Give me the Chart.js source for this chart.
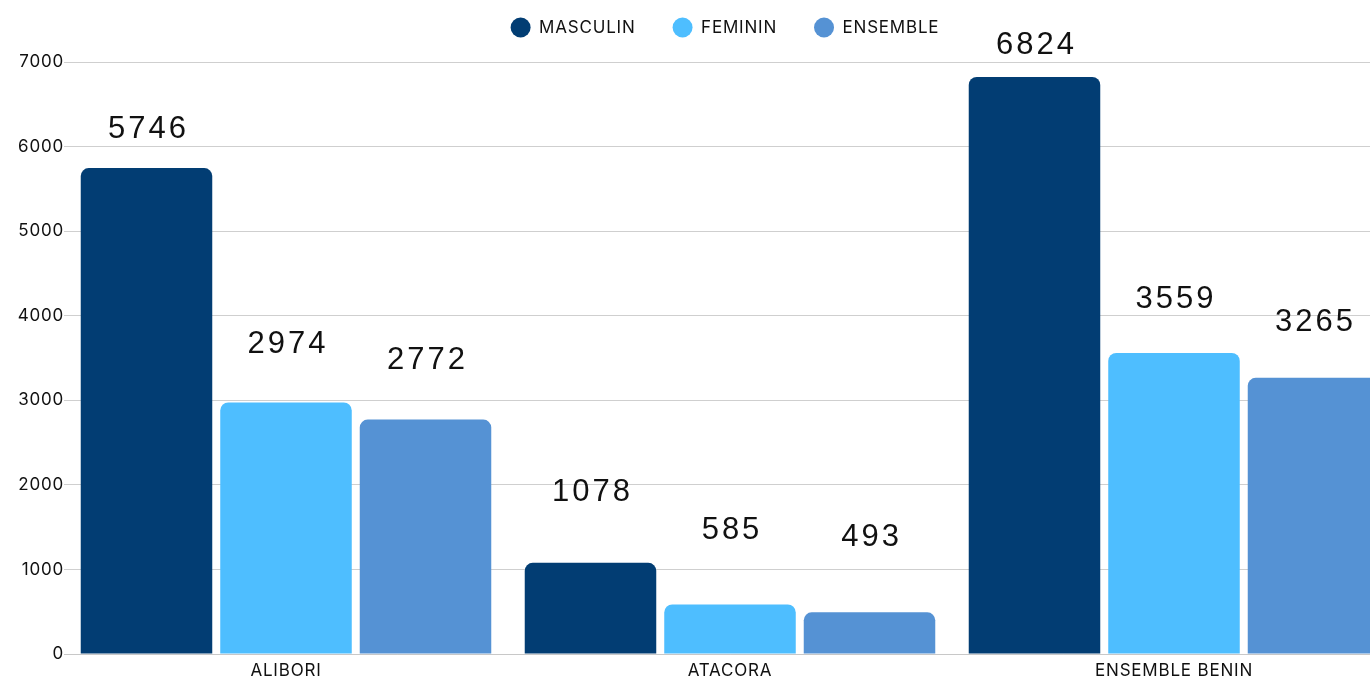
<!DOCTYPE html>
<html>
<head>
<meta charset="utf-8">
<script src="https://cdn.jsdelivr.net/npm/chart.js@4.4.1/dist/chart.umd.min.js"></script>
<style>
  html, body { margin: 0; padding: 0; background: #fff; }
  .frame { width: 1370px; height: 680px; overflow: hidden; position: relative; }
  .wrap { width: 1400px; height: 680px; position: absolute; left: 0; top: 0; }
</style>
</head>
<body>
<div class="frame"><div class="wrap"><canvas id="myChart"></canvas></div></div>
<script>
const categories = ['ALIBORI', 'ATACORA', 'ENSEMBLE BENIN']
const seriesNames = ['MASCULIN', 'FEMININ', 'ENSEMBLE']
const masculin = [5746, 1078, 6824]
const feminin = [2974, 585, 3559]
const ensemble = [2772, 493, 3265]
const yTicks = [0, 1000, 2000, 3000, 4000, 5000, 6000, 7000]

const colors = ['#023d73', '#4ebeff', '#5592d4']
const font = 'Inter, "Noto Sans", sans-serif'

// slightly wider text everywhere, like the original
const spacing = {
  id: 'spacing',
  beforeUpdate(chart) { chart.ctx.letterSpacing = '0.8px' },
  beforeDraw(chart) { chart.ctx.letterSpacing = '0.8px' }
}

// push the plot below the legend, and nudge the legend right
const legendGap = {
  id: 'legendGap',
  beforeInit(chart) {
    const fit = chart.legend.fit
    chart.legend.fit = function () {
      fit.bind(chart.legend)()
      this.height = 80
    }
  },
  afterLayout(chart) {
    chart.legend.left += 54
  }
}

// big numbers above each bar
const valueLabels = {
  id: 'valueLabels',
  afterDatasetsDraw(chart) {
    const { ctx } = chart
    const y = chart.scales.y
    ctx.save()
    ctx.font = '31px "Liberation Sans", Arial, sans-serif'
    ctx.letterSpacing = '3px'
    ctx.fillStyle = '#111'
    ctx.textAlign = 'center'
    ctx.textBaseline = 'middle'
    chart.data.datasets.forEach((ds, i) => {
      chart.getDatasetMeta(i).data.forEach((bar, j) => {
        const v = ds.data[j]
        const top = y.getPixelForValue(v)
        ctx.fillText(String(v), bar.x + 2, top - 78 + v * 0.0068)
      })
    })
    ctx.restore()
  }
}

const ctx = document.getElementById('myChart')

const data = {
  labels: categories,
  datasets: [masculin, feminin, ensemble].map((vals, i) => ({
    label: seriesNames[i],
    data: vals,
    backgroundColor: colors[i],
    borderRadius: 8,
    borderSkipped: 'start',
    categoryPercentage: 0.9426,
    barPercentage: 0.9427
  }))
}

new Chart(ctx, {
  type: 'bar',
  data,
  plugins: [spacing, legendGap, valueLabels],
  options: {
    responsive: true,
    maintainAspectRatio: false,
    animation: false,
    layout: {
      padding: { top: -18, right: 4, bottom: 0, left: 0 }
    },
    plugins: {
      legend: {
        display: true,
        position: 'top',
        labels: {
          usePointStyle: true,
          pointStyle: 'circle',
          boxHeight: 14,
          pointStyleWidth: 20,
          padding: 37,
          color: '#111',
          font: { family: font, size: 17 }
        }
      },
      tooltip: { enabled: false }
    },
    scales: {
      x: {
        grid: { display: false, drawTicks: false },
        border: { display: true, color: '#c8c8c8' },
        ticks: {
          color: '#111',
          padding: 7,
          font: { family: font, size: 17 }
        },
        afterFit(scale) { scale.height = 26 }
      },
      y: {
        min: 0,
        max: 7000,
        afterBuildTicks(scale) {
          scale.ticks = yTicks.map(v => ({ value: v }))
        },
        grid: { color: '#cfcfcf', drawTicks: false },
        border: { display: false },
        ticks: {
          color: '#111',
          padding: 0,
          font: { family: font, size: 17 },
          callback: v => String(v)
        },
        afterFit(scale) { scale.width = 64 }
      }
    }
  }
})
</script>
</body>
</html>
